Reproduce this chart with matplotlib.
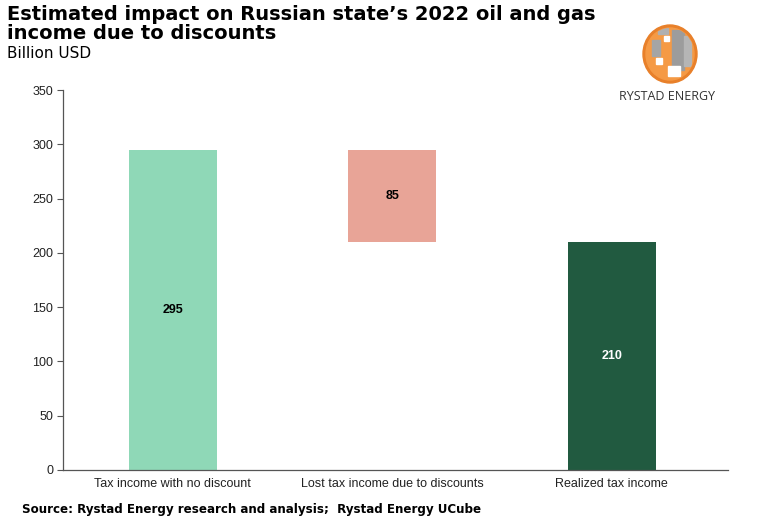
import matplotlib
matplotlib.use("Agg")
import matplotlib.pyplot as plt
from matplotlib.patches import Ellipse, Rectangle

categories = ["Tax income with no discount", "Lost tax income due to discounts", "Realized tax income"]
values = [295, 85, 210]
bottoms = [0, 210, 0]
colors = ["#8fd8b7", "#e8a497", "#215a40"]
label_colors = ["black", "black", "white"]
yticks = [0, 50, 100, 150, 200, 250, 300, 350]

W, H = 764, 529
fig = plt.figure(figsize=(W / 100, H / 100), dpi=100)
ax = fig.add_axes([63 / W, 1 - 470 / H, (728 - 63) / W, (470 - 90) / H])

x = list(range(len(categories)))
bars = ax.bar(x, values, bottom=bottoms, width=0.4, color=colors)
for xi, v, b, c in zip(x, values, bottoms, label_colors):
    ax.text(xi, b + v / 2, str(v), ha="center", va="center", fontsize=9,
            fontweight="bold", color=c, family="Liberation Sans")

ax.set_xlim(-0.5, 2.53)
ax.set_ylim(0, 350)
ax.set_yticks(yticks)
ax.set_xticks(x)
ax.set_xticklabels(categories, family="Liberation Sans", fontsize=9, color="#222222")
for lab in ax.get_yticklabels():
    lab.set_family("Liberation Sans")
    lab.set_fontsize(9)
    lab.set_color("#222222")
ax.tick_params(axis="y", length=4, width=0.8, color="#555555", pad=3)
ax.tick_params(axis="x", length=0, pad=6)
ax.spines["top"].set_visible(False)
ax.spines["right"].set_visible(False)
for s in ("left", "bottom"):
    ax.spines[s].set_color("#555555")
    ax.spines[s].set_linewidth(0.9)

fig.text(7 / W, 1 - 5 / H, "Estimated impact on Russian state\u2019s 2022 oil and gas\nincome due to discounts",
         ha="left", va="top", fontsize=14, fontweight="bold", linespacing=1.0, color="black")
fig.text(7 / W, 1 - 46 / H, "Billion USD", ha="left", va="top", fontsize=11, color="black")
fig.text(22 / W, 1 - 509 / H, "Source: Rystad Energy research and analysis;  Rystad Energy UCube",
         ha="left", va="center", fontsize=8.6, fontweight="bold", color="black")

# logo
lax = fig.add_axes([630 / W, 1 - 88 / H, 76 / W, 64 / H])
lax.set_xlim(630, 706)
lax.set_ylim(88, 24)
lax.axis("off")
outer = Ellipse((670, 54), 54, 58, color="#e8802a")
lax.add_patch(outer)
inner = Ellipse((670, 54), 48, 52, color="#f59a45")
lax.add_patch(inner)
for (rx, ry, rw, rh, rc) in [(672, 30, 12, 40, "#9c9c9c"), (684, 36, 7, 30, "#b5b5b5"),
                             (652, 40, 8, 16, "#a5a5a5"), (658, 28, 10, 6, "#b0b0b0"),
                             (668, 66, 12, 10, "white"), (656, 58, 6, 6, "white"),
                             (664, 36, 5, 5, "white")]:
    r = Rectangle((rx, ry), rw, rh, color=rc)
    lax.add_patch(r)
    r.set_clip_path(inner)
fig.text(667 / W, 1 - 97 / H, "RYSTAD ENERGY", ha="center", va="center", fontsize=9,
         color="#333333", family="Open Sans")

fig.savefig("out.png", dpi=100, facecolor="white")
